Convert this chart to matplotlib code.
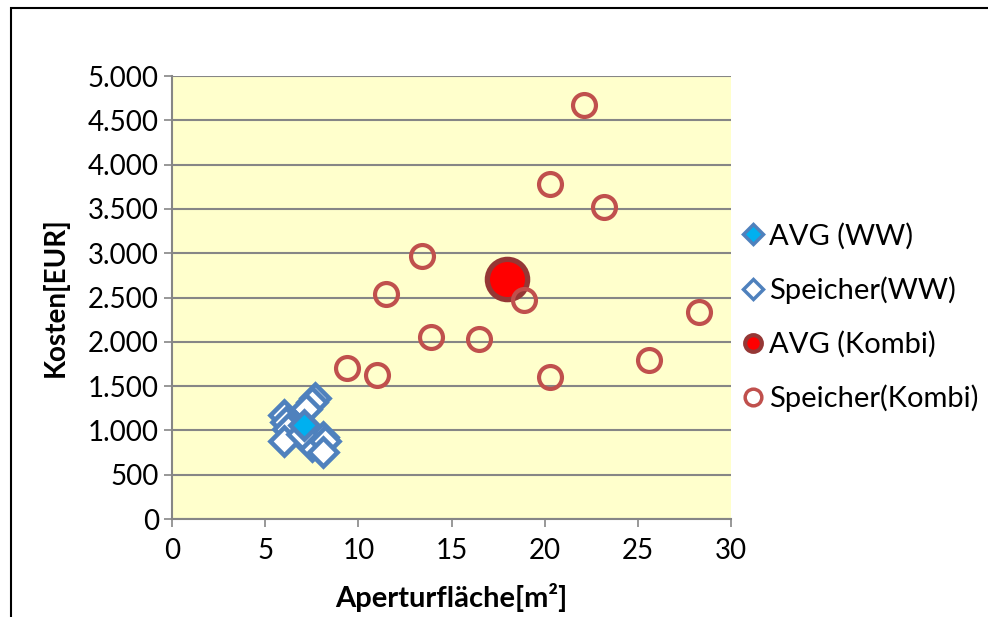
import matplotlib.pyplot as plt
from matplotlib.lines import Line2D
from matplotlib.patches import Rectangle
from matplotlib.ticker import FuncFormatter

# data
ww_x = [7.7, 7.5, 7.2, 6.0, 6.1, 6.2, 6.0, 7.3, 7.5, 8.1, 8.2, 8.1, 7.0]
ww_y = [1370, 1320, 1240, 1170, 1090, 1020, 880, 900, 820, 930, 880, 760, 960]
ww_avg_x = [7.1]
ww_avg_y = [1060]

kombi_x = [22.1, 20.3, 23.2, 13.4, 11.5, 18.9, 13.9, 16.5, 9.4, 11.0, 20.3, 25.6, 28.3]
kombi_y = [4670, 3780, 3520, 2970, 2540, 2470, 2060, 2030, 1710, 1630, 1600, 1800, 2340]
kombi_avg_x = [18.0]
kombi_avg_y = [2710]

labels = ['AVG (WW)', 'Speicher(WW)', 'AVG (Kombi)', 'Speicher(Kombi)']

blue = '#4F81BD'
cyan = '#00B0F0'
red_edge = '#C0504D'
dark_red = '#953735'


def main():
    plt.rcParams['font.family'] = ['Lato', 'DejaVu Sans']
    fig = plt.figure(figsize=(9.88, 6.17), dpi=100)
    ax = fig.add_axes([0.1741, 0.1588, 0.5658, 0.718])
    ax.set_facecolor('#FFFFCC')

    # outer chart frame
    fig.patches.append(Rectangle((0.011, -0.05), 1.05, 1.037, transform=fig.transFigure,
                                 fill=False, edgecolor='black', linewidth=1.5))

    ax.plot(ww_x, ww_y, 'D', ms=14, mfc='white', mec=blue, mew=3.3, ls='none', zorder=3)
    ax.plot(ww_avg_x, ww_avg_y, 'D', ms=14, mfc=cyan, mec=blue, mew=3.3, ls='none', zorder=4)
    ax.plot(kombi_x, kombi_y, 'o', ms=16.5, mfc='none', mec=red_edge, mew=3, ls='none', zorder=3)
    ax.plot(kombi_avg_x, kombi_avg_y, 'o', ms=29, mfc='#FF0000', mec=dark_red, mew=3.8,
            ls='none', zorder=2)

    ax.set_xlim(0, 30)
    ax.set_ylim(0, 5000)
    ax.set_xticks(range(0, 31, 5))
    ax.set_yticks(range(0, 5001, 500))
    ax.yaxis.set_major_formatter(FuncFormatter(lambda v, p: f'{int(v):,}'.replace(',', '.')))
    ax.grid(axis='y', color='#868686', linewidth=1.5)
    ax.set_axisbelow(True)
    for s in ['top', 'right']:
        ax.spines[s].set_visible(False)
    for s in ['left', 'bottom']:
        ax.spines[s].set_color('#868686')
        ax.spines[s].set_linewidth(1.5)
    ax.tick_params(colors='#868686', length=6, width=1.2, labelsize=20, labelcolor='black')
    ax.tick_params(axis='x', pad=8)

    ax.set_xlabel('Aperturfläche[m²]', fontsize=21, fontweight='bold', labelpad=13)
    ax.set_ylabel('Kosten[EUR]', fontsize=20, fontweight='bold', labelpad=14)

    handles = [
        Line2D([], [], marker='D', ls='none', ms=10, mfc=cyan, mec=blue, mew=2.5),
        Line2D([], [], marker='D', ls='none', ms=10, mfc='white', mec=blue, mew=2.5),
        Line2D([], [], marker='o', ls='none', ms=12, mfc='#FF0000', mec=dark_red, mew=3),
        Line2D([], [], marker='o', ls='none', ms=12, mfc='white', mec=red_edge, mew=2.5),
    ]
    ax.legend(handles, labels, loc='center left', bbox_to_anchor=(0.99, 0.455), frameon=False,
              fontsize=21, handletextpad=0.0, labelspacing=0.92, handlelength=1.1,
              borderaxespad=0.0)

    fig.savefig('out.png', dpi=100)


if __name__ == '__main__':
    main()
